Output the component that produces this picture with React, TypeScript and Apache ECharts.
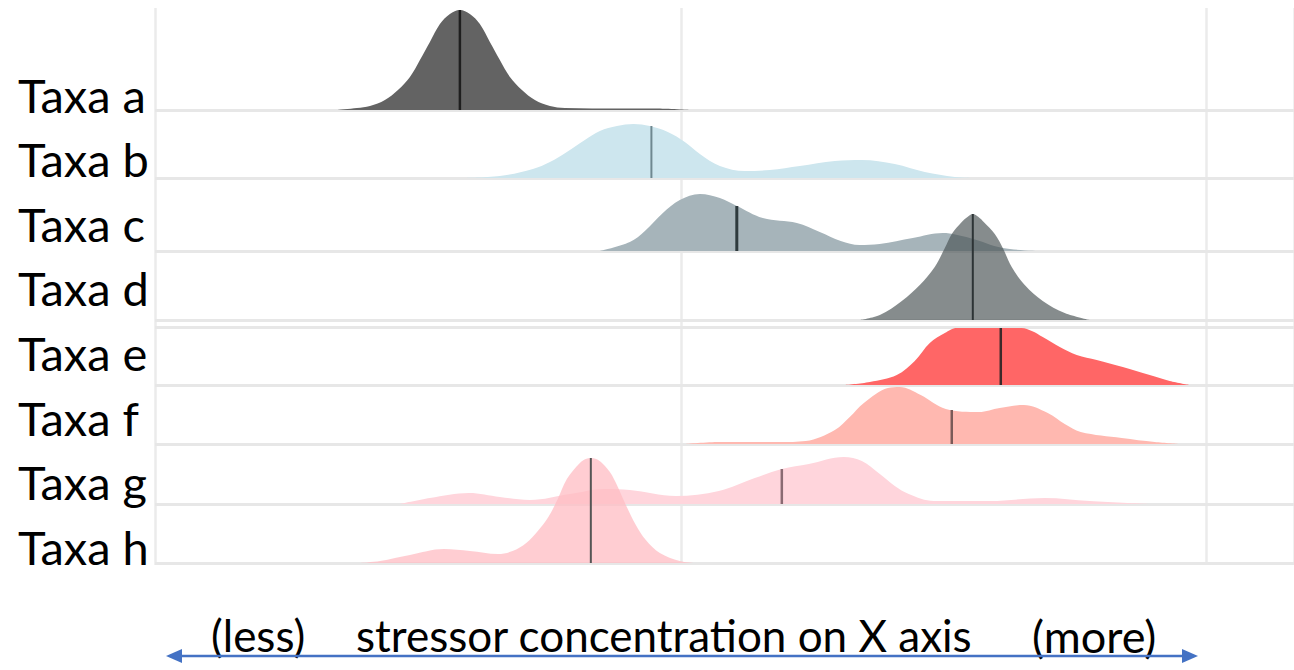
import React, { useEffect, useRef } from 'react';
import * as echarts from 'echarts';

// Row names (top to bottom)
const taxaLabels = ['Taxa a', 'Taxa b', 'Taxa c', 'Taxa d', 'Taxa e', 'Taxa f', 'Taxa g', 'Taxa h'];
// Baseline of each ridge on the vertical (stacking) axis
const rowBase = [455, 387, 314, 245, 180, 121, 61, 2];
const extraRule = [238];

// Density curves: x = stressor concentration, h = ridge height
const aX = [17.3, 19.2, 20.44, 21.86, 23.1, 24.24, 25.19, 26.14, 27.09, 28.04, 28.99, 29.94, 30.89, 31.84, 32.79, 33.75, 34.89, 36.12, 37.55, 38.97, 44.2, 47.53, 50.86];
const aH = [0, 2, 4, 10, 20, 33, 50, 68, 86, 96, 100, 96, 86, 68, 50, 33, 20, 10, 4, 2, 1.5, 1.5, 0];
const bX = [28.99, 32.79, 35.93, 37.55, 39.16, 40.87, 42.3, 43.92, 45.5, 47.05, 48.76, 50.38, 51.81, 53.71, 56.08, 58.46, 61.31, 64.64, 67.21, 70.34, 73.19, 76.05, 77.95];
const bH = [0, 2, 9, 16, 26, 38, 47, 52, 54, 52, 46, 36, 24, 12, 7, 8, 12, 17, 18, 14, 6, 1, 0];
const cX = [42.3, 45.15, 46.58, 48.29, 49.9, 51.81, 53.71, 55.32, 57.79, 61.03, 63.21, 65.2, 67.0, 68.9, 72.05, 74.9, 77.47, 80.61, 84.13];
const cH = [0, 9, 20, 38, 51, 57, 53, 45, 33, 28, 19, 10, 6, 7, 13, 18, 13, 3, 0];
const dX = [67.02, 68.92, 71.01, 72.72, 74.14, 75.1, 75.76, 76.71, 77.25, 77.76, 78.3, 78.8, 79.85, 80.61, 81.46, 82.7, 84.41, 86.5, 88.88];
const dH = [0, 5, 19, 35, 53, 72, 86, 98, 103, 106, 103, 98, 86, 72, 53, 35, 19, 7, 0];
const eX = [65.59, 67.97, 70.53, 72.24, 73.67, 75.1, 76.24, 82.41, 83.37, 84.41, 86.03, 87.64, 89.54, 92.02, 94.58, 96.48, 98.38];
const eH = [0, 3, 10, 24, 42, 52, 57, 57, 54, 48, 38, 30, 25, 18, 10, 4, 0];
const fX = [50.38, 53.71, 59.41, 61.88, 64.64, 66.06, 67.4, 69.68, 70.82, 72.81, 75.19, 78.33, 80.32, 82.6, 84.89, 86.5, 88.02, 91.92, 95.06, 97.43];
const fH = [0, 2, 2, 3, 14, 27, 41, 56, 57, 49, 35, 32, 36, 39, 31, 20, 12, 6, 2, 0];
const gX = [23.29, 26.14, 29.85, 32.79, 35.65, 39.45, 42.78, 45.15, 49.52, 53.61, 57.03, 59.6, 62.17, 65.49, 67.21, 68.92, 70.34, 71.67, 74.05, 79.37, 84.6, 88.88, 94.58];
const gH = [0, 6, 11, 7, 4, 10, 15, 14, 8, 13, 26, 35, 40, 47, 43, 30, 18, 10, 3, 3, 6, 3, 0];
const hX = [19.49, 21.39, 24.24, 27.47, 29.94, 32.6, 34.0, 35.3, 36.4, 37.4, 38.3, 39.16, 40.4, 40.95, 41.44, 41.95, 42.5, 43.44, 44.77, 45.72, 46.67, 48.0, 49.9, 51.33];
const hH = [0, 2, 8, 14, 12, 9, 12, 20, 32, 46, 64, 84, 100, 104, 105, 104, 100, 88, 58, 38, 23, 10, 2, 0];

// Medians (x) and the curve height at the median
const medianX = [28.99, 47.2, 55.32, 77.76, 80.42, 75.76, 59.6, 41.44];
const medianH = [100, 52, 45, 106, 57, 34, 35, 105];

// Bottom axis caption
const captionLess = '(less)';
const captionMid = 'stressor concentration on X axis';
const captionMore = '(more)';

const curveX = [aX, bX, cX, dX, eX, fX, gX, hX];
const curveH = [aH, bH, cH, dH, eH, fH, gH, hH];

const fillColors = ['#636363', '#cde6ee', '#a6b4ba', '#4d5557', '#ff6666', '#ffb8b0', '#ffd5dc', '#ffbcc3'];
const fillOpacity = [1, 1, 1, 0.68, 1, 1, 1, 0.75];
const medianColors = ['#1e1e1e', '#6f8890', '#2e3a3d', '#2d3436', '#3a2a2a', '#7a5a58', '#8a6a72', '#555555'];
const medianWidths = [2.5, 2, 3, 2, 2.5, 2.5, 2.5, 2];

const FONT = 'Lato, "Open Sans", sans-serif';

export default function App() {
  const ref = useRef<HTMLDivElement>(null);

  useEffect(() => {
    const chart = echarts.init(ref.current!, null, { renderer: 'svg' });
    const series: any[] = [];
    curveX.forEach((xs, i) => {
      const base = rowBase[i];
      series.push({
        type: 'line',
        name: taxaLabels[i],
        data: xs.map((x, j) => [x, base + curveH[i][j]]),
        smooth: 0.35,
        symbol: 'none',
        silent: true,
        lineStyle: { width: 0, opacity: 0 },
        areaStyle: { color: fillColors[i], opacity: fillOpacity[i], origin: base },
        z: 3,
        markLine:
          i === 0
            ? {
                symbol: 'none',
                silent: true,
                label: { show: false },
                lineStyle: { color: '#e7e7e7', width: 3, type: 'solid' },
                data: [...rowBase, ...extraRule].map((v) => ({ yAxis: v })),
                z: 1,
              }
            : undefined,
      });
      series.push({
        type: 'line',
        name: taxaLabels[i] + ' median',
        data: [
          [medianX[i], base],
          [medianX[i], base + medianH[i]],
        ],
        symbol: 'none',
        silent: true,
        lineStyle: { color: medianColors[i], width: medianWidths[i] },
        z: 3,
      });
    });

    const graphics: any[] = [];
    taxaLabels.forEach((t, i) => {
      graphics.push({
        type: 'text',
        left: 18,
        top: 71 + i * 64.6,
        style: { text: t, font: `47px ${FONT}`, fill: '#000' },
      });
    });
    graphics.push({ type: 'text', left: 211, top: 613, style: { text: captionLess, font: `44px ${FONT}`, fill: '#000' } });
    graphics.push({ type: 'text', left: 356, top: 613, style: { text: captionMid, font: `44px ${FONT}`, fill: '#000' } });
    graphics.push({ type: 'text', left: 1032, top: 613, style: { text: captionMore, font: `45px ${FONT}`, fill: '#000' } });
    graphics.push({ type: 'line', shape: { x1: 178, y1: 656, x2: 1186, y2: 656 }, style: { stroke: '#4472c4', lineWidth: 2.5 } });
    graphics.push({ type: 'polygon', shape: { points: [[166, 656], [182, 649], [182, 663]] }, style: { fill: '#4472c4' } });
    graphics.push({ type: 'polygon', shape: { points: [[1198, 656], [1182, 649], [1182, 663]] }, style: { fill: '#4472c4' } });

    chart.setOption({
      animation: false,
      backgroundColor: '#ffffff',
      grid: { left: 155, right: 0, top: 8, bottom: 105, containLabel: false },
      xAxis: {
        type: 'value',
        min: 0,
        max: 108.3,
        interval: 50,
        axisLine: { show: false },
        axisTick: { show: false },
        axisLabel: { show: false },
        splitLine: { show: true, lineStyle: { color: '#ebebeb', width: 2.5 } },
      },
      yAxis: {
        type: 'value',
        min: 0,
        max: 557,
        axisLine: { show: false },
        axisTick: { show: false },
        axisLabel: { show: false },
        splitLine: { show: false },
      },
      series,
      graphic: graphics,
    });
    return () => chart.dispose();
  }, []);

  return <div ref={ref} style={{ position: 'fixed', left: 0, top: 0, width: 1294, height: 670 }} />;
}
